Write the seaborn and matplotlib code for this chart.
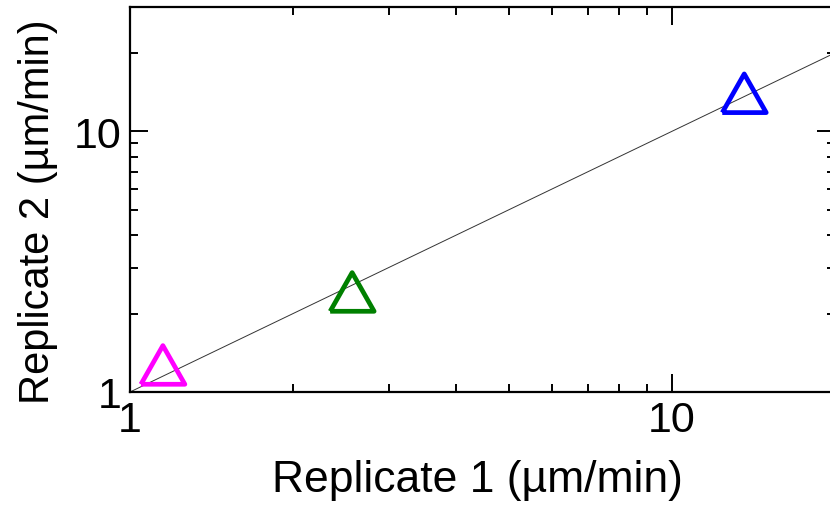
import matplotlib
matplotlib.use("Agg")
import matplotlib.pyplot as plt
import matplotlib.ticker as mticker
import seaborn as sns
import pandas as pd

# Rates measured in two replicates (µm/min)
samples = ["A", "B", "C"]
replicate1 = [1.15, 2.57, 13.6]
replicate2 = [1.27, 2.42, 14.0]
colors = ["#FF00FF", "#008000", "#0000FF"]

# Identity line y = x
identity = [1, 20]

sns.set_theme(style="ticks")
plt.rcParams["font.family"] = ["Liberation Sans", "DejaVu Sans"]
plt.rcParams["text.color"] = "black"
plt.rcParams["axes.labelcolor"] = "black"
plt.rcParams["xtick.color"] = "black"
plt.rcParams["ytick.color"] = "black"

fig = plt.figure(figsize=(8.3, 5.1), dpi=100)
ax = fig.add_axes([130 / 830, 117 / 510, 705 / 830, 385 / 510])

sns.lineplot(x=identity, y=identity, color="#333333", linewidth=0.7, ax=ax)

tri = [(-1, -0.88), (1, -0.88), (0, 0.88), (-1, -0.88)]
df = pd.DataFrame({"sample": samples, "r1": replicate1, "r2": replicate2})
for (_, row), c in zip(df.iterrows(), colors):
    sns.scatterplot(x=[row.r1], y=[row.r2], marker=tri, s=1000,
                    facecolor="none", edgecolor=c, linewidth=3.4, ax=ax,
                    zorder=3)
    ax.collections[-1].set_joinstyle("round")

ax.set_xscale("log")
ax.set_yscale("log")
ax.set_xlim(1, 20)
ax.set_ylim(1, 30)

fmt = mticker.FuncFormatter(lambda v, p: f"{v:g}")
ax.xaxis.set_major_formatter(fmt)
ax.yaxis.set_major_formatter(fmt)
ax.xaxis.set_minor_formatter(mticker.NullFormatter())
ax.yaxis.set_minor_formatter(mticker.NullFormatter())

ax.tick_params(which="both", direction="in", top=True, right=True,
               width=1.4, color="black", labelcolor="black")
ax.tick_params(which="major", length=13, labelsize=31, pad=6)
ax.tick_params(which="minor", length=6)
for s in ax.spines.values():
    s.set_linewidth(1.6)
    s.set_color("black")

ax.set_xlabel("Replicate 1 (µm/min)", fontsize=32)
ax.set_ylabel("Replicate 2 (µm/min)", fontsize=30)
ax.xaxis.set_label_coords(0.493, -0.175)
ax.yaxis.set_label_coords(-0.102, 0.47)

fig.savefig("out.png", dpi=100)
